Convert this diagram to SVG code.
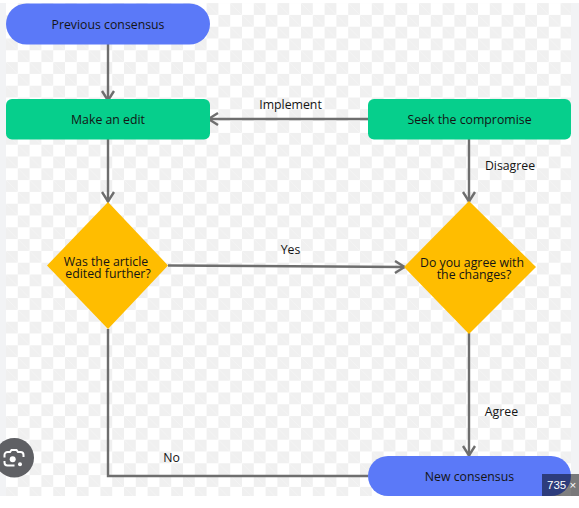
<svg xmlns="http://www.w3.org/2000/svg" width="579" height="508" viewBox="0 0 579 508">
<style>
text{font-family:"Open Sans","Noto Sans",sans-serif;font-size:12.3px;fill:#141414;text-anchor:middle}
.c{fill:none;stroke:#6e6e6e;stroke-width:2.4}
.t{fill:#5b79f8}.g{fill:#06cf8c}.d{fill:#ffbd00}
</style>
<defs>
<pattern id="ck" x="6" y="14.900" width="23.6" height="23.6" patternUnits="userSpaceOnUse">
<rect width="23.6" height="23.6" fill="#fff"/>
<rect width="11.8" height="11.8" fill="#f0f0f0"/>
<rect x="11.8" y="11.8" width="11.8" height="11.8" fill="#f0f0f0"/>
<path d="M0 0L11.8 11.8L23.6 23.6" stroke="#f7f7f7" stroke-width="0.6"/>
</pattern>
<marker id="a" markerUnits="userSpaceOnUse" markerWidth="16" markerHeight="16" refX="11" refY="7" orient="auto">
<path d="M1 1L10.5 7L1 13" fill="none" stroke="#6e6e6e" stroke-width="2.4"/>
</marker>
</defs>
<rect width="579" height="508" fill="#fff"/>
<rect y="3" width="579" height="493" fill="#f2f3f5"/>
<rect x="6" y="3" width="565" height="493" fill="url(#ck)"/>
<g id="connectors">
<path class="c" d="M108 44V101" marker-end="url(#a)"/>
<path class="c" d="M108 139V202" marker-end="url(#a)"/>
<path class="c" d="M368 119H208" marker-end="url(#a)"/>
<path class="c" d="M469 139V202" marker-end="url(#a)"/>
<path class="c" d="M168 265.500L405 267" marker-end="url(#a)"/>
<path class="c" d="M469 333V456" marker-end="url(#a)"/>
<path class="c" d="M108 329V476H368"/>
</g>
<g id="previous-consensus"><rect class="t" x="6" y="3.500" width="204" height="41" rx="20.500"/><text x="108" y="28.500">Previous consensus</text></g>
<g id="make-edit"><rect class="g" x="6" y="99" width="204" height="40.500" rx="6"/><text x="108" y="124">Make an edit</text></g>
<g id="seek-compromise"><rect class="g" x="368" y="99" width="203" height="40.500" rx="6"/><text x="469.500" y="124">Seek the compromise</text></g>
<g id="article-edited"><polygon class="d" points="108,202 168,265.500 108,329 47,265.500"/><text y="266"><tspan x="106">Was the article</tspan><tspan x="108" y="278">edited further?</tspan></text></g>
<g id="agree-changes"><polygon class="d" points="469,201 536,267 469,334 404,267"/><text y="267"><tspan x="472">Do you agree with</tspan><tspan x="474" y="279">the changes?</tspan></text></g>
<g id="new-consensus"><rect class="t" x="368" y="456" width="203" height="40" rx="20"/><text x="469.500" y="480.500">New consensus</text></g>
<g id="labels">
<text x="290.500" y="109">Implement</text>
<text x="510" y="169.500">Disagree</text>
<text x="290.500" y="253.500">Yes</text>
<text x="501.500" y="416">Agree</text>
<text x="171.500" y="462">No</text>
</g>
<g id="lens"><circle cx="14.300" cy="457.700" r="19.700" fill="#5f6064"/>
<g fill="none" stroke="#fff" stroke-width="2"><path d="M4.500 457.500V455a3 3 0 0 1 3-3h2.500l1.500-2h5l1.500 2h2.500a3 3 0 0 1 3 3v2"/><path d="M4.500 461v1.500a3 3 0 0 0 3 3h7"/></g><circle cx="12.700" cy="459.300" r="3" fill="#fff"/><circle cx="20" cy="464.300" r="2" fill="#fff"/></g>
<g id="badge"><rect x="542" y="474" width="37" height="22" fill="#000" fill-opacity="0.5"/><text x="547" y="488.500" style="font-family:'Liberation Sans',sans-serif;font-size:11.500px;fill:#fff;text-anchor:start">735 ×</text></g>
</svg>
